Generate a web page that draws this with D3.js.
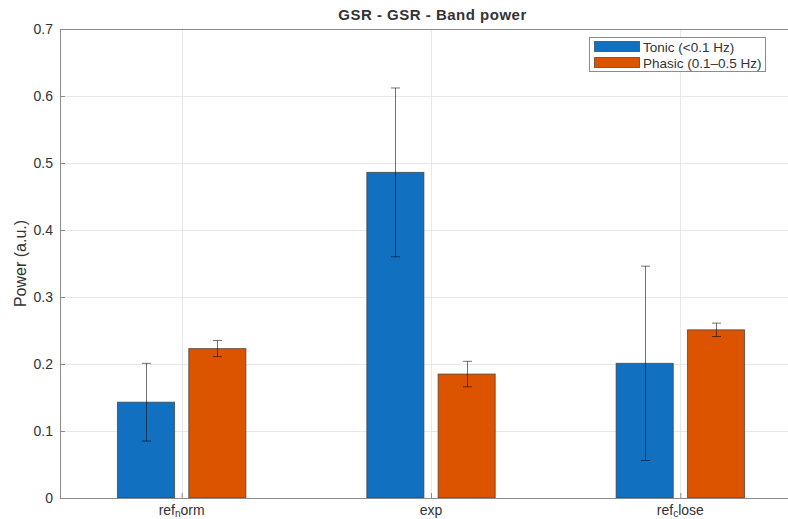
<!DOCTYPE html>
<html><head><meta charset="utf-8">
<script src="https://cdn.jsdelivr.net/npm/d3@7"></script>
<style>body{margin:0;background:#fff}svg{display:block}</style>
</head><body>
<svg id="c" width="788" height="519"></svg>
<script>
const categories = ["ref_norm", "exp", "ref_close"];
const seriesNames = ["Tonic (<0.1 Hz)", "Phasic (0.1\u20130.5 Hz)"];
const tonicValues = [0.143, 0.486, 0.201];
const tonicErrors = [0.058, 0.126, 0.145];
const phasicValues = [0.223, 0.185, 0.251];
const phasicErrors = [0.012, 0.019, 0.010];
const yTicks = [0, 0.1, 0.2, 0.3, 0.4, 0.5, 0.6, 0.7];
const colors = ["#1170c0", "#dd5400"];

(function () {
const svg = d3.select("#c");
const pL = 60, pR = 805, pT = 29, pB = 498;
const x = d3.scaleLinear().domain([0.512, 3.5]).range([pL, pR]);
const y = d3.scaleLinear().domain([0, 0.7]).range([pB, pT]);
const font = "'Liberation Sans', Arial, Helvetica, sans-serif";
const txt = "#333333", axc = "#8c8c8c";

// grid
svg.append("g").selectAll("line").data(yTicks.slice(1, -1)).join("line")
  .attr("x1", pL).attr("x2", 788).attr("y1", d => Math.round(y(d)) + 0.5).attr("y2", d => Math.round(y(d)) + 0.5)
  .attr("stroke", "#e8e8e8").attr("stroke-width", 1);
svg.append("g").selectAll("line").data([1, 2, 3]).join("line")
  .attr("x1", d => Math.round(x(d)) + 0.5).attr("x2", d => Math.round(x(d)) + 0.5).attr("y1", pT).attr("y2", pB)
  .attr("stroke", "#e8e8e8").attr("stroke-width", 1);

// bars
const series = [
  {vals: tonicValues, errs: tonicErrors, off: -0.143},
  {vals: phasicValues, errs: phasicErrors, off: 0.143}
];
const bw = 0.229;
series.forEach((s, si) => {
  const g = svg.append("g");
  g.selectAll("rect").data(s.vals).join("rect")
    .attr("x", (d, i) => x(i + 1 + s.off - bw / 2))
    .attr("width", (d, i) => x(i + 1 + s.off + bw / 2) - x(i + 1 + s.off - bw / 2))
    .attr("y", d => y(d)).attr("height", d => y(0) - y(d))
    .attr("fill", colors[si]).attr("stroke", "#3a3a3a").attr("stroke-opacity", 0.7).attr("stroke-width", 1);
});
// error bars
series.forEach((s, si) => {
  const g = svg.append("g").attr("stroke", "#000").attr("stroke-opacity", 0.55).attr("stroke-width", 1);
  s.vals.forEach((v, i) => {
    const cx = Math.round(x(i + 1 + s.off)) + 0.5;
    const y1 = y(v + s.errs[i]), y2 = y(v - s.errs[i]);
    g.append("line").attr("x1", cx).attr("x2", cx).attr("y1", y1).attr("y2", y2);
    g.append("line").attr("x1", cx - 4.5).attr("x2", cx + 4.5).attr("y1", y1).attr("y2", y1);
    g.append("line").attr("x1", cx - 4.5).attr("x2", cx + 4.5).attr("y1", y2).attr("y2", y2);
  });
});

// axes
const yAxis = d3.axisLeft(y).tickValues(yTicks).tickSize(-5).tickPadding(7).tickFormat(d => d === 0 ? "0" : d3.format(".1f")(d));
const ya = svg.append("g").attr("transform", `translate(${pL},0)`).call(yAxis);
ya.select(".domain").attr("stroke", axc);
ya.selectAll(".tick line").attr("stroke", axc);
ya.selectAll("text").attr("fill", txt).attr("font-family", font).attr("font-size", 14);

const xAxis = d3.axisBottom(x).tickValues([1, 2, 3]).tickSize(-5).tickFormat("");
const xa = svg.append("g").attr("transform", `translate(0,${pB})`).call(xAxis);
xa.select(".domain").attr("stroke", axc).attr("d", `M${pL},0.5H788`);
xa.selectAll(".tick line").attr("stroke", axc);
// top border
svg.append("line").attr("x1", pL).attr("x2", 788).attr("y1", pT + 0.5).attr("y2", pT + 0.5).attr("stroke", axc);

// x tick labels with subscripts
categories.forEach((c, i) => {
  const t = svg.append("text").attr("x", x(i + 1)).attr("y", 515).attr("text-anchor", "middle")
    .attr("fill", txt).attr("font-family", font).attr("font-size", 14);
  const parts = c.split("_");
  t.append("tspan").text(parts[0]);
  if (parts.length > 1) {
    t.append("tspan").attr("font-size", 10).attr("dy", 2).text(parts[1][0]);
    t.append("tspan").attr("dy", -2).text(parts[1].slice(1));
  }
});

// title
svg.append("text").attr("x", (pL + pR) / 2).attr("y", 20).attr("text-anchor", "middle")
  .attr("font-family", font).attr("font-size", 15).attr("font-weight", "bold").attr("fill", txt)
  .attr("letter-spacing", 0.5)
  .text("GSR - GSR - Band power");

// y label
svg.append("text").attr("transform", `translate(26,${(pT + pB) / 2}) rotate(-90)`)
  .attr("text-anchor", "middle").attr("font-family", font).attr("font-size", 16).attr("fill", txt)
  .text("Power (a.u.)");

// legend
const lg = svg.append("g");
lg.append("rect").attr("x", 589.5).attr("y", 37.5).attr("width", 176).attr("height", 34)
  .attr("fill", "#fff").attr("stroke", "#8c8c8c");
seriesNames.forEach((n, i) => {
  lg.append("rect").attr("x", 594.5).attr("y", 41.5 + i * 16).attr("width", 45).attr("height", 10)
    .attr("fill", colors[i]).attr("stroke", "#3a3a3a").attr("stroke-opacity", 0.7);
  lg.append("text").attr("x", 643).attr("y", 51.5 + i * 16).attr("font-family", font).attr("font-size", 13.5)
    .attr("fill", txt).text(n);
});
})();
</script>
</body></html>
